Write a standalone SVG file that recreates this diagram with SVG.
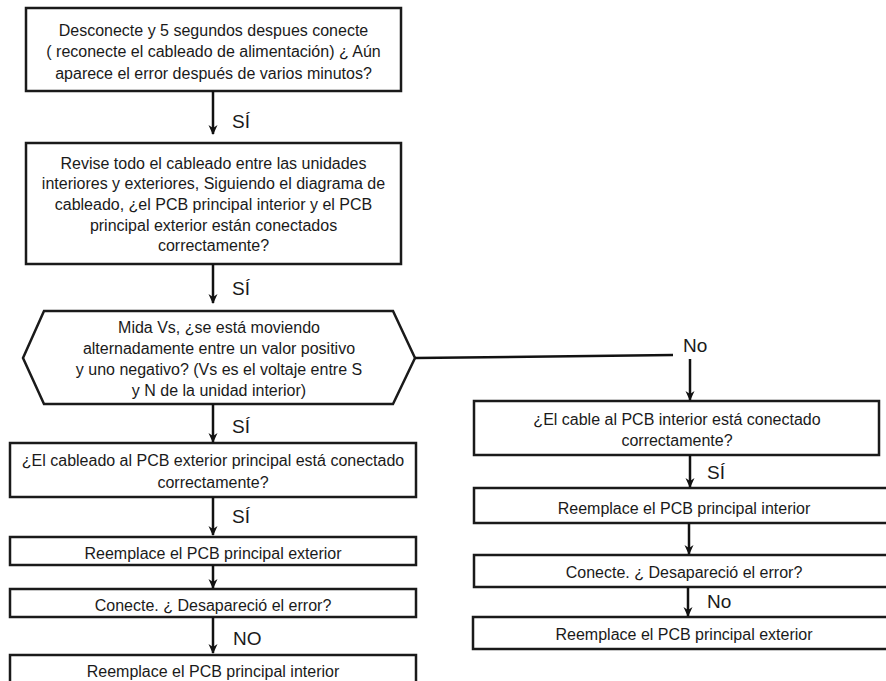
<svg xmlns="http://www.w3.org/2000/svg" width="886" height="681" viewBox="0 0 886 681">
<defs>
<marker id="ah" viewBox="0 0 10 10" refX="9" refY="5" markerWidth="10" markerHeight="10" markerUnits="userSpaceOnUse" orient="auto">
<path d="M0,0.5 L10,5 L0,9.5 L3,5 Z" fill="#111"/>
</marker>
<style>
.box{fill:#fff;stroke:#1a1a1a;stroke-width:2.5}
.t{font-family:"Liberation Sans",Arial,sans-serif;font-size:16px;fill:#1a1a1a;text-anchor:middle}
.lbl{font-family:"Liberation Sans",Arial,sans-serif;font-size:19px;fill:#1a1a1a}
.c{fill:none;stroke:#111;stroke-width:2.5}
</style>
</defs>
<rect width="886" height="681" fill="#fff"/>
<g id="n1">
<rect class="box" x="26" y="8" width="375" height="83"/>
<text class="t" x="213.5" y="36">Desconecte y 5 segundos despues conecte</text>
<text class="t" x="213.5" y="57">( reconecte el cableado de alimentación) ¿ Aún</text>
<text class="t" x="213.5" y="79">aparece el error después de varios minutos?</text>
</g>
<g id="n2">
<rect class="box" x="26" y="143" width="375" height="121"/>
<text class="t" x="213.5" y="169">Revise todo el cableado entre las unidades</text>
<text class="t" x="213.5" y="189">interiores y exteriores, Siguiendo el diagrama de</text>
<text class="t" x="213.5" y="210">cableado, ¿el PCB principal interior y el PCB</text>
<text class="t" x="213.5" y="231">principal exterior están conectados</text>
<text class="t" x="213.5" y="251">correctamente?</text>
</g>
<g id="n3">
<polygon class="box" points="23,358 44,311 393,311 415,358 393,404 44,404"/>
<text class="t" x="219" y="333">Mida Vs, ¿se está moviendo</text>
<text class="t" x="219" y="354">alternadamente entre un valor positivo</text>
<text class="t" x="219" y="375">y uno negativo? (Vs es el voltaje entre S</text>
<text class="t" x="219" y="396">y N de la unidad interior)</text>
</g>
<g id="n4">
<rect class="box" x="10" y="443" width="406" height="54"/>
<text class="t" x="213" y="466">¿El cableado al PCB exterior principal está conectado</text>
<text class="t" x="213" y="488">correctamente?</text>
</g>
<g id="n5">
<rect class="box" x="10" y="537" width="406" height="28"/>
<text class="t" x="213" y="559">Reemplace el PCB principal exterior</text>
</g>
<g id="n6">
<rect class="box" x="10" y="589" width="406" height="28"/>
<text class="t" x="213" y="611">Conecte. ¿ Desapareció el error?</text>
</g>
<g id="n7">
<rect class="box" x="10" y="655" width="406" height="40"/>
<text class="t" x="213" y="677">Reemplace el PCB principal interior</text>
</g>
<g id="n8">
<rect class="box" x="474" y="401" width="405" height="54"/>
<text class="t" x="677" y="425">¿El cable al PCB interior está conectado</text>
<text class="t" x="677" y="446">correctamente?</text>
</g>
<g id="n9">
<rect class="box" x="474" y="488" width="420" height="35"/>
<text class="t" x="684" y="514">Reemplace el PCB principal interior</text>
</g>
<g id="n10">
<rect class="box" x="474" y="555" width="420" height="32"/>
<text class="t" x="684" y="578">Conecte. ¿ Desapareció el error?</text>
</g>
<g id="n11">
<rect class="box" x="473" y="617" width="420" height="32"/>
<text class="t" x="684" y="640">Reemplace el PCB principal exterior</text>
</g>
<g id="connectors">
<line class="c" x1="213" y1="91" x2="213" y2="134" marker-end="url(#ah)"/>
<line class="c" x1="213" y1="264" x2="213" y2="303" marker-end="url(#ah)"/>
<line class="c" x1="213" y1="404" x2="213" y2="442" marker-end="url(#ah)"/>
<line class="c" x1="213" y1="497" x2="213" y2="535" marker-end="url(#ah)"/>
<line class="c" x1="213" y1="565" x2="213" y2="588" marker-end="url(#ah)"/>
<line class="c" x1="213" y1="617" x2="213" y2="653" marker-end="url(#ah)"/>
<line class="c" x1="415" y1="358" x2="673" y2="355"/>
<line class="c" x1="690" y1="359" x2="690" y2="400" marker-end="url(#ah)"/>
<line class="c" x1="690" y1="455" x2="690" y2="487" marker-end="url(#ah)"/>
<line class="c" x1="689" y1="523" x2="689" y2="554" marker-end="url(#ah)"/>
<line class="c" x1="688" y1="587" x2="688" y2="616" marker-end="url(#ah)"/>
<text class="lbl" x="232" y="128">SÍ</text>
<text class="lbl" x="232" y="295">SÍ</text>
<text class="lbl" x="232" y="433">SÍ</text>
<text class="lbl" x="232" y="523">SÍ</text>
<text class="lbl" x="233" y="645">NO</text>
<text class="lbl" x="683" y="352">No</text>
<text class="lbl" x="707" y="479">SÍ</text>
<text class="lbl" x="707" y="608">No</text>
</g>
</svg>
